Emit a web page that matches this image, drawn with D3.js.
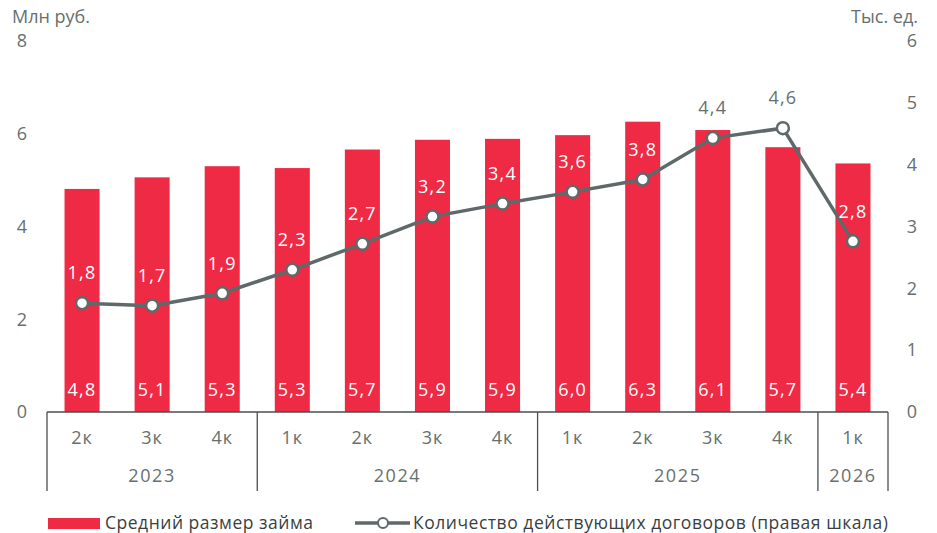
<!DOCTYPE html>
<html><head><meta charset="utf-8">
<script src="https://cdn.jsdelivr.net/npm/d3@7"></script>
<style>body{margin:0;background:#fff}svg{display:block}text{font-family:"Open Sans",sans-serif}</style>
</head><body>
<svg id="c" width="937" height="533"></svg>
<script>
const quarters = ["2к","3к","4к","1к","2к","3к","4к","1к","2к","3к","4к","1к"];
const years = [{y:"2023",n:3},{y:"2024",n:4},{y:"2025",n:4},{y:"2026",n:1}];
const loanSize = [4.81,5.06,5.3,5.26,5.66,5.87,5.89,5.97,6.26,6.08,5.71,5.36];
const contracts = [1.76,1.72,1.92,2.3,2.72,3.16,3.37,3.56,3.76,4.43,4.59,2.76];
const leftTicks = [0,2,4,6,8];
const rightTicks = [0,1,2,3,4,5,6];

const svg = d3.select("#c");
const L = 47, R = 888, T = 41, B = 412;
const grey = "#66706f", red = "#ee2a45", lineCol = "#5f6969";
const fmt = v => v.toFixed(1).replace(".", ",");

const x = d3.scaleBand().domain(d3.range(quarters.length)).range([L, R]).paddingInner(0.5).paddingOuter(0.25);
const yL = d3.scaleLinear().domain([0, 8]).range([B, T]);
const yR = d3.scaleLinear().domain([0, 6]).range([B, T]);

// axis titles
svg.append("text").attr("x", 12).attr("y", 23).attr("fill", grey).attr("font-size", 18).text("Млн руб.");
svg.append("text").attr("x", 918).attr("y", 23).attr("fill", grey).attr("font-size", 18)
  .attr("text-anchor", "end").text("Тыс. ед.");

// left ticks
svg.append("g").selectAll("text").data(leftTicks).join("text")
  .attr("x", 22).attr("y", d => yL(d)).attr("dy", "0.35em").attr("text-anchor", "middle")
  .attr("fill", grey).attr("font-size", 18).text(d => d);
// right ticks
svg.append("g").selectAll("text").data(rightTicks).join("text")
  .attr("x", 912).attr("y", d => yR(d)).attr("dy", "0.35em").attr("text-anchor", "middle")
  .attr("fill", grey).attr("font-size", 18).text(d => d);

// bars
svg.append("g").selectAll("rect").data(loanSize).join("rect")
  .attr("x", (d, i) => x(i)).attr("width", x.bandwidth())
  .attr("y", d => yL(d)).attr("height", d => B - yL(d)).attr("fill", red);

// bar labels
svg.append("g").selectAll("text").data(loanSize).join("text")
  .attr("x", (d, i) => x(i) + x.bandwidth() / 2).attr("y", 390).attr("dy", "0.35em")
  .attr("text-anchor", "middle").attr("fill", "#fff").attr("font-size", 18).attr("letter-spacing", 1.2)
  .text(d => fmt(d));

// axis baseline and category separators
const step = x.step();
svg.append("line").attr("x1", L).attr("x2", R).attr("y1", B).attr("y2", B).attr("stroke", "#4a4f4f").attr("stroke-width", 1.3);
let acc = 0;
const bounds = [0];
years.forEach(g => { acc += g.n; bounds.push(acc); });
svg.append("g").selectAll("line").data(bounds).join("line")
  .attr("x1", d => L + d * step).attr("x2", d => L + d * step)
  .attr("y1", B).attr("y2", 491).attr("stroke", "#4a4f4f").attr("stroke-width", 1.3);

// quarter labels
svg.append("g").selectAll("text").data(quarters).join("text")
  .attr("x", (d, i) => x(i) + x.bandwidth() / 2).attr("y", 438).attr("dy", "0.35em")
  .attr("text-anchor", "middle").attr("fill", grey).attr("font-size", 18).attr("letter-spacing", 1)
  .text(d => d);
// year labels
svg.append("g").selectAll("text").data(years).join("text")
  .attr("x", (d, i) => L + (bounds[i] + bounds[i + 1]) / 2 * step).attr("y", 476).attr("dy", "0.35em")
  .attr("text-anchor", "middle").attr("fill", grey).attr("font-size", 18).attr("letter-spacing", 1.6)
  .text(d => d.y);

// line
const cx = i => x(i) + x.bandwidth() / 2;
svg.append("path").datum(contracts)
  .attr("d", d3.line().x((d, i) => cx(i)).y(d => yR(d)))
  .attr("fill", "none").attr("stroke", lineCol).attr("stroke-width", 3.5);
svg.append("g").selectAll("circle").data(contracts).join("circle")
  .attr("cx", (d, i) => cx(i)).attr("cy", d => yR(d)).attr("r", 6)
  .attr("fill", "#fff").attr("stroke", lineCol).attr("stroke-width", 2.5);
svg.append("g").selectAll("text").data(contracts).join("text")
  .attr("x", (d, i) => cx(i)).attr("y", d => yR(d) - 30).attr("dy", "0.35em")
  .attr("text-anchor", "middle").attr("font-size", 18).attr("letter-spacing", 1.2)
  .attr("fill", (d, i) => (yR(d) - 40 > yL(loanSize[i])) ? "#fff" : grey)
  .text(d => fmt(d));

// legend
const lg = svg.append("g");
lg.append("rect").attr("x", 48).attr("y", 518).attr("width", 52).attr("height", 11).attr("fill", red);
lg.append("text").attr("x", 105).attr("y", 523).attr("dy", "0.35em").attr("fill", "#3a3f3f").attr("font-size", 17.5)
  .attr("textLength", 208).attr("lengthAdjust", "spacing").text("Средний размер займа");
lg.append("line").attr("x1", 355).attr("x2", 410).attr("y1", 523).attr("y2", 523).attr("stroke", lineCol).attr("stroke-width", 3.5);
lg.append("circle").attr("cx", 383).attr("cy", 523).attr("r", 5).attr("fill", "#fff").attr("stroke", lineCol).attr("stroke-width", 2);
lg.append("text").attr("x", 413).attr("y", 523).attr("dy", "0.35em").attr("fill", "#3a3f3f").attr("font-size", 17.5)
  .attr("textLength", 475).attr("lengthAdjust", "spacing").text("Количество действующих договоров (правая шкала)");
</script>
</body></html>
